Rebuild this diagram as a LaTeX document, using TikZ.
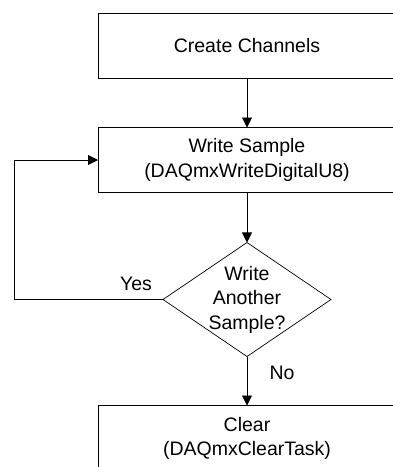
\documentclass[tikz,border=0pt]{standalone}
\usepackage{fontspec}
\setmainfont{Liberation Sans}
\usepackage{tikz}
\usetikzlibrary{arrows.meta, positioning, shapes.geometric}

\tikzset{
  stepbox/.style={draw, line width=0.9pt, minimum width=298pt, minimum height=65pt, align=center},
  askbox/.style={draw, diamond, line width=0.7pt, minimum width=168pt, minimum height=114pt},
  flow/.style={line width=0.9pt, -{Triangle[width=10pt,length=10pt]}}
}

\begin{document}
\begin{tikzpicture}[x=1pt,y=1pt,inner sep=0pt,outer sep=0pt,node distance=49pt,
  font=\fontsize{19.5}{24.5}\selectfont]
\clip (0,0) rectangle (393,-467);
\node[stepbox] (create) at (247,-46) {Create Channels};
\node[stepbox, below=of create] (write) {Write Sample\\(DAQmxWriteDigitalU8)};
\node[askbox, below=50pt of write] (more) {};
\node[align=center] (moretext) at (more) {Write\\Another\\Sample?};
\node[stepbox, below=of more, minimum height=66pt] (clear) {Clear\\(DAQmxClearTask)};
\path (more.west) -- ++(-149,0) coordinate (loop);
\draw[flow] (create) -- (write);
\draw[flow] (write) -- (more);
\draw[flow] (more) -- (clear);
\draw[flow] (more.west) -- (loop) |- (write.west);
\node (yes) at (136,-284) {Yes};
\node (no) at (282,-373) {No};
\end{tikzpicture}
\end{document}
